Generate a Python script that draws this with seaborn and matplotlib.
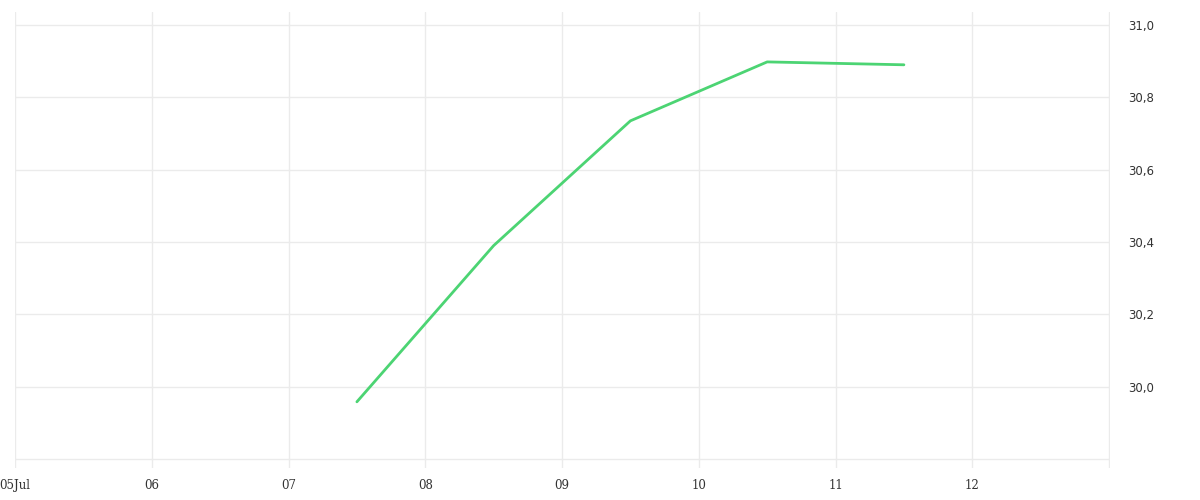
import numpy as np
import pandas as pd
import matplotlib
matplotlib.use('Agg')
import matplotlib.pyplot as plt
import matplotlib.dates as mdates
from matplotlib.ticker import FuncFormatter
import seaborn as sns

# Veriler
times = pd.to_datetime([
    '2024-07-07 12:00', '2024-07-08 12:00', '2024-07-09 12:00',
    '2024-07-10 12:00', '2024-07-11 12:00',
])
values = [29.958, 30.390, 30.735, 30.898, 30.890]
y_ticks = [29.8, 30.0, 30.2, 30.4, 30.6, 30.8, 31.0]
x_start = pd.Timestamp('2024-07-05')
x_end = pd.Timestamp('2024-07-13')

df = pd.DataFrame({'time': times, 'value': values})

sns.set_style('white')
fig = plt.figure(figsize=(12, 5), dpi=100)
ax = fig.add_axes([0.0125, 0.064, 0.9125, 0.912])

sns.lineplot(data=df, x='time', y='value', ax=ax, color='#4cd473', linewidth=2)

ax.set_xlim(x_start, x_end + pd.Timedelta(minutes=10))
ax.set_ylim(29.775, 31.036)
ax.xaxis.set_major_locator(mdates.DayLocator())


def fmt_date(x, pos):
    d = mdates.num2date(x)
    if d.date() == x_start.date():
        return d.strftime('%d%b')
    if d.date() == x_end.date():
        return ''
    return d.strftime('%d')


ax.xaxis.set_major_formatter(FuncFormatter(fmt_date))
ax.set_yticks(y_ticks)
ax.set_yticklabels(['' if v == 29.8 else f'{v:.1f}'.replace('.', ',') for v in y_ticks])
ax.yaxis.tick_right()

ax.grid(True, color='#ebebeb', linewidth=1)
for s in ax.spines.values():
    s.set_visible(False)
ax.tick_params(axis='both', length=0)
ax.tick_params(axis='x', pad=8)
ax.tick_params(axis='y', pad=13)
for lab in ax.get_xticklabels():
    lab.set_fontfamily('DejaVu Serif')
    lab.set_fontsize(8.5)
    lab.set_color('#333333')
for lab in ax.get_yticklabels():
    lab.set_fontfamily('DejaVu Sans')
    lab.set_fontsize(8.5)
    lab.set_color('#333333')
    lab.set_y(lab.get_position()[1])
ax.set_xlabel('')
ax.set_ylabel('')

plt.savefig('out.png', dpi=100)
plt.close()
